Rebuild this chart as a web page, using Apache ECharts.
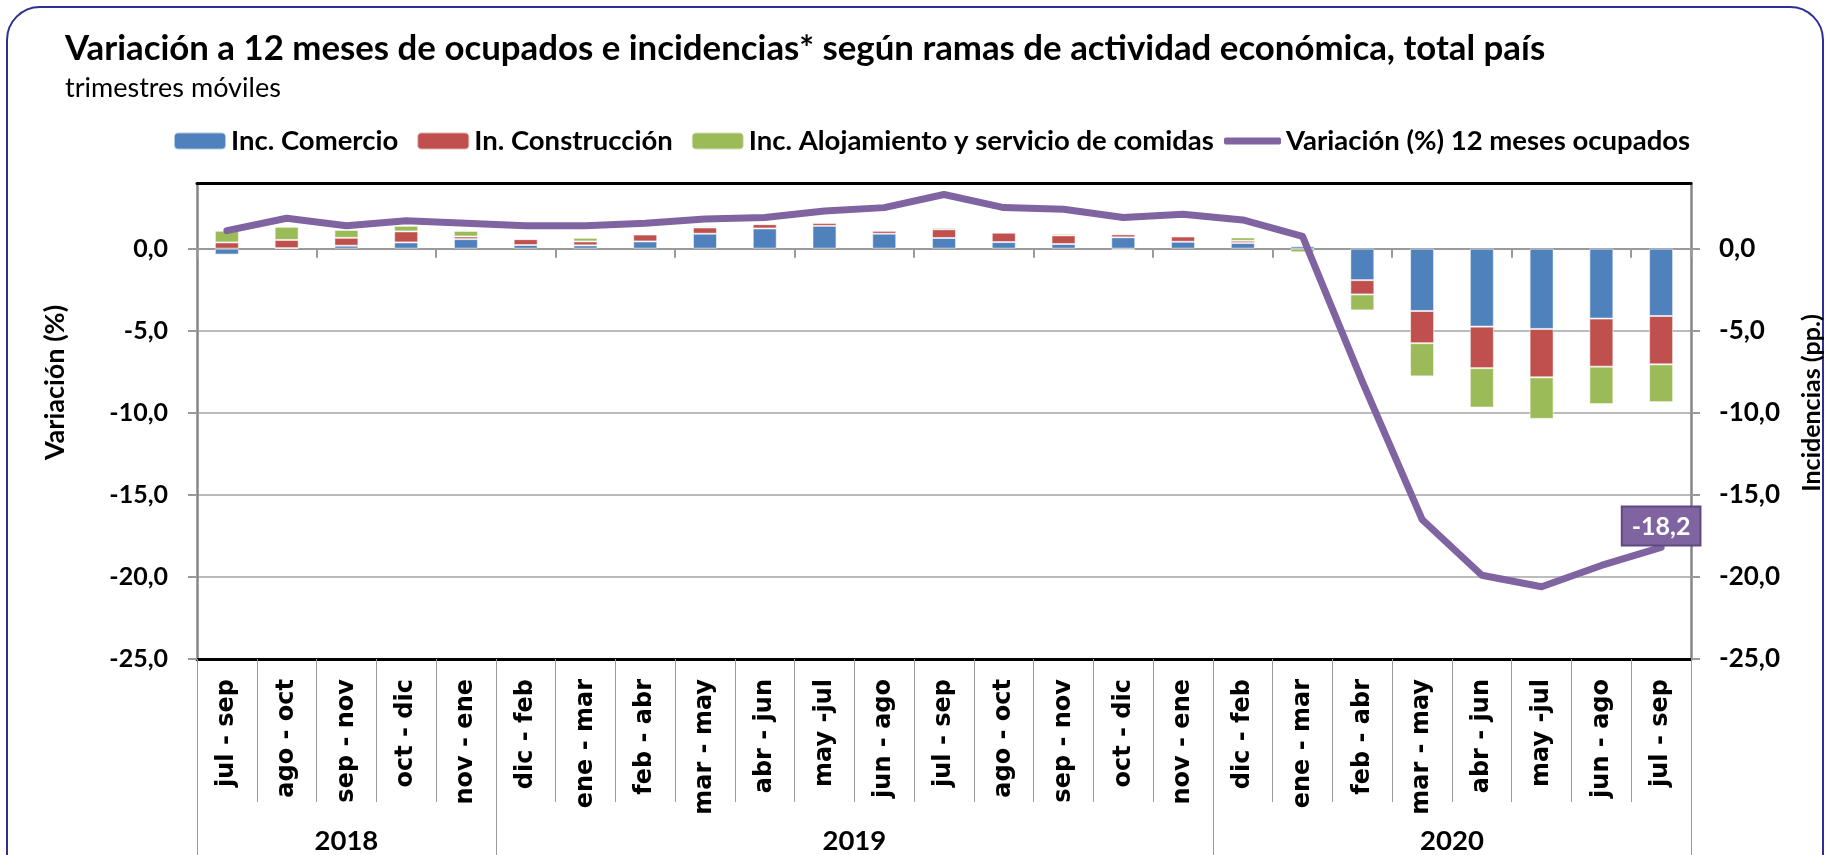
<!DOCTYPE html>
<html>
<head>
<meta charset="utf-8">
<title>Variación ocupados</title>
<script src="https://cdn.jsdelivr.net/npm/echarts@6/dist/echarts.min.js"></script>
<style>
  html, body { margin: 0; padding: 0; background: #fff; }
  #chart { width: 1832px; height: 855px; }
</style>
</head>
<body>
<div id="chart"></div>
<script>
  // trimestres móviles
  const categorias = ['jul - sep', 'ago - oct', 'sep - nov', 'oct - dic', 'nov - ene',
    'dic - feb', 'ene - mar', 'feb - abr', 'mar - may', 'abr - jun', 'may -jul', 'jun - ago',
    'jul - sep', 'ago - oct', 'sep - nov', 'oct - dic', 'nov - ene',
    'dic - feb', 'ene - mar', 'feb - abr', 'mar - may', 'abr - jun', 'may -jul', 'jun - ago', 'jul - sep']
  const anios = ['2018', '2019', '2020']
  const aniosLimites = [0, 5, 17, 25] // índice de inicio de cada año

  const incComercio = [-0.36, 0.03, 0.18, 0.38, 0.58, 0.22, 0.20, 0.44, 0.91, 1.23, 1.39, 0.91,
    0.65, 0.40, 0.28, 0.69, 0.42, 0.34, 0.15, -1.92, -3.80, -4.75, -4.89, -4.26, -4.10]
  const incConstruccion = [0.38, 0.50, 0.48, 0.67, 0.16, 0.36, 0.24, 0.42, 0.38, 0.26, 0.18, 0.18,
    0.53, 0.57, 0.53, 0.18, 0.32, 0.14, 0.05, -0.87, -1.96, -2.53, -2.95, -2.93, -2.95]
  const incAlojamiento = [0.71, 0.80, 0.48, 0.34, 0.34, 0.02, 0.22, 0.04, 0.08, 0.02, 0.02, 0.01,
    0.10, 0.06, 0.10, -0.08, 0.04, 0.20, -0.22, -0.97, -2.02, -2.40, -2.53, -2.28, -2.30]
  const variacion = [1.1, 1.85, 1.4, 1.7, 1.55, 1.4, 1.4, 1.55, 1.8, 1.9, 2.3, 2.5,
    3.3, 2.5, 2.4, 1.9, 2.1, 1.75, 0.75, -8.1, -16.5, -19.9, -20.6, -19.3, -18.2]

  const fmt = v => v.toFixed(1).replace('.', ',')
  const FONT = 'Lato'
  const GRIS = '#9a9a9a'
  const MORADO = '#8064A2'

  const barra = (name, data, color) => ({
    name,
    type: 'bar',
    stack: 'inc',
    yAxisIndex: 1,
    barWidth: 24,
    itemStyle: { color, borderColor: 'rgba(255,255,255,0.55)', borderWidth: 1 },
    data
  })

  const yearCenters = anios.map((a, i) => (aniosLimites[i] + aniosLimites[i + 1]) / 2)
  const legendText = { fontFamily: FONT, fontSize: 27.5, fontWeight: 'bold', color: '#000' }

  const chart = echarts.init(document.getElementById('chart'))
  chart.setOption({
    animation: false,
    textStyle: { fontFamily: FONT },
    title: {
      text: 'Variación a 12 meses de ocupados e incidencias* según ramas de actividad económica, total país',
      subtext: 'trimestres móviles',
      left: 60,
      top: 26,
      itemGap: 9,
      textStyle: { fontFamily: FONT, fontSize: 34.8, fontWeight: 'bold', color: '#000', lineHeight: 35 },
      subtextStyle: { fontFamily: FONT, fontSize: 27, color: '#000', lineHeight: 27 }
    },
    legend: [
      {
        left: 168,
        top: 122,
        itemWidth: 52,
        itemHeight: 17,
        itemGap: 18,
        textStyle: legendText,
        data: ['Inc. Comercio', 'In. Construcción', 'Inc. Alojamiento y servicio de comidas']
      },
      {
        left: 1219,
        top: 122,
        itemWidth: 57,
        itemHeight: 7,
        textStyle: legendText,
        data: [{ name: 'Variación (%) 12 meses ocupados', icon: 'roundRect', itemStyle: { color: MORADO } }]
      }
    ],
    grid: { left: 197, right: 138, top: 183, bottom: 195, containLabel: false },
    graphic: [{
      type: 'rect',
      z: -10,
      shape: { x: 7, y: 7, width: 1816, height: 950, r: 33 },
      style: { fill: 'none', stroke: '#2E3192', lineWidth: 2 }
    }],
    xAxis: [
      {
        // categorías (abajo)
        type: 'category',
        data: categorias,
        position: 'bottom',
        axisLine: { onZero: false, lineStyle: { color: '#000', width: 3 } },
        axisTick: { show: true, length: 143, lineStyle: { color: GRIS, width: 1 } },
        axisLabel: {
          interval: 0, rotate: 90, margin: 20,
          fontFamily: 'DejaVu Sans', fontWeight: 'bold', fontSize: 24, color: '#000'
        },
        splitLine: { show: false }
      },
      {
        // años
        type: 'value',
        min: 0,
        max: 25,
        position: 'bottom',
        offset: 143,
        axisLine: { show: false, onZero: false },
        axisTick: { show: true, customValues: aniosLimites, length: 60, lineStyle: { color: GRIS, width: 1 } },
        axisLabel: {
          customValues: yearCenters, margin: 25,
          formatter: v => anios[yearCenters.indexOf(v)] || '',
          fontFamily: FONT, fontWeight: 'bold', fontSize: 27.5, color: '#000'
        },
        splitLine: { show: false }
      },
      {
        // eje en cero
        type: 'category',
        data: categorias,
        position: 'bottom',
        axisLine: { onZero: true, lineStyle: { color: GRIS, width: 2 } },
        axisTick: { show: true, length: 9, lineStyle: { color: GRIS, width: 2 } },
        axisLabel: { show: false },
        splitLine: { show: false }
      },
      {
        // borde superior
        type: 'category',
        data: categorias,
        position: 'top',
        axisLine: { onZero: false, lineStyle: { color: '#000', width: 3 } },
        axisTick: { show: false },
        axisLabel: { show: false },
        splitLine: { show: false }
      }
    ],
    yAxis: [
      {
        type: 'value',
        min: -25, max: 4, interval: 5,
        position: 'left',
        name: 'Variación (%)',
        nameLocation: 'middle',
        nameRotate: 90,
        nameGap: 128,
        nameTextStyle: { fontFamily: FONT, fontSize: 27, fontWeight: 'bold', color: '#000', padding: [0, 0, 0, 77] },
        axisLine: { show: true, onZero: false, lineStyle: { color: '#868686', width: 2.5 } },
        axisTick: { show: true, length: 9, lineStyle: { color: GRIS, width: 2 } },
        axisLabel: {
          margin: 29, showMaxLabel: false, formatter: fmt,
          fontFamily: FONT, fontSize: 25, fontWeight: 'bold', color: '#000'
        },
        splitLine: { show: true, lineStyle: { color: '#a6a6a6', width: 1.5 } }
      },
      {
        type: 'value',
        min: -25, max: 4, interval: 5,
        position: 'right',
        name: 'Incidencias (pp.)',
        nameLocation: 'middle',
        nameRotate: 90,
        nameGap: 108,
        nameTextStyle: { fontFamily: FONT, fontSize: 25, fontWeight: 'bold', color: '#000', padding: [0, 0, 0, 36] },
        axisLine: { show: true, onZero: false, lineStyle: { color: '#868686', width: 2.5 } },
        axisTick: { show: true, length: 9, lineStyle: { color: GRIS, width: 2 } },
        axisLabel: {
          margin: 28, showMaxLabel: false, formatter: fmt,
          fontFamily: FONT, fontSize: 26, fontWeight: 'bold', color: '#000'
        },
        splitLine: { show: false }
      }
    ],
    series: [
      barra('Inc. Comercio', incComercio, '#4F81BD'),
      barra('In. Construcción', incConstruccion, '#C0504D'),
      barra('Inc. Alojamiento y servicio de comidas', incAlojamiento, '#9BBB59'),
      {
        name: 'Variación (%) 12 meses ocupados',
        type: 'line',
        yAxisIndex: 0,
        symbol: 'none',
        z: 5,
        lineStyle: { color: MORADO, width: 7, cap: 'round', join: 'round' },
        itemStyle: { color: MORADO },
        data: variacion.map((v, i) => i === variacion.length - 1 ? {
          value: v,
          symbol: 'circle',
          symbolSize: 2,
          label: {
            show: true,
            position: 'top',
            distance: 2,
            formatter: p => fmt(p.value),
            backgroundColor: MORADO,
            borderColor: '#5E4A7E',
            borderWidth: 2,
            color: '#fff',
            fontFamily: FONT,
            fontSize: 25,
            fontWeight: 'bold',
            padding: [7, 9, 5, 9]
          }
        } : v)
      }
    ]
  })
</script>
</body>
</html>
